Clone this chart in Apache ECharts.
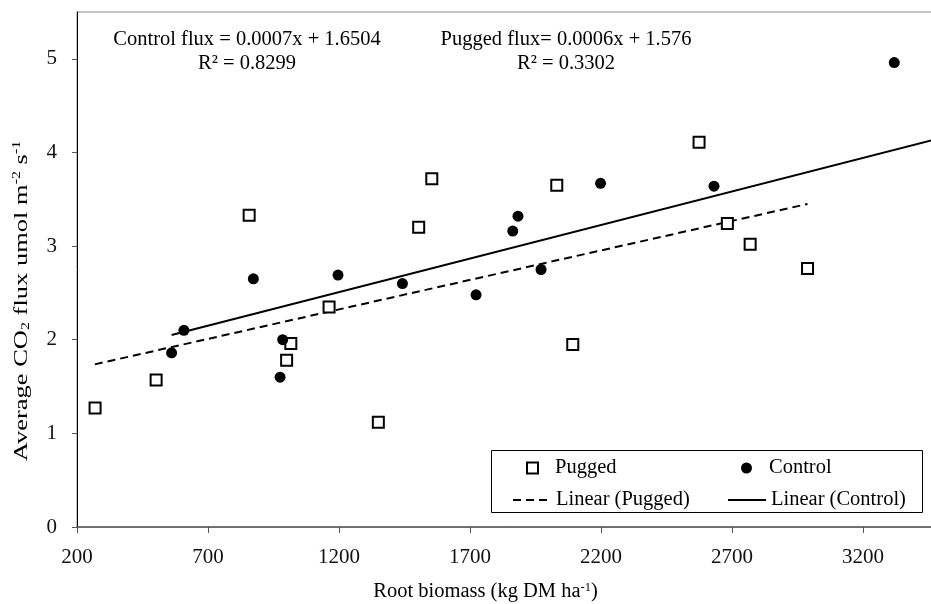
<!DOCTYPE html>
<html>
<head>
<meta charset="utf-8">
<script src="https://cdn.jsdelivr.net/npm/echarts@6/dist/echarts.min.js"></script>
<style>
  html, body { margin: 0; padding: 0; background: #fff; }
  #main { width: 931px; height: 604px; }
</style>
</head>
<body>
<div id="main"></div>
<script>
// root biomass (kg DM/ha) vs average CO2 flux
const puggedX = [269, 502, 857, 1000, 1016, 1162, 1350, 1504, 1554, 2031, 2092, 2574, 2682, 2769, 2988]
const puggedY = [1.27, 1.57, 3.33, 1.78, 1.96, 2.35, 1.12, 3.20, 3.72, 3.65, 1.95, 4.11, 3.24, 3.02, 2.76]
const controlX = [561, 608, 873, 985, 975, 1196, 1442, 1723, 1863, 1883, 1971, 2198, 2631, 3319]
const controlY = [1.86, 2.10, 2.65, 2.00, 1.60, 2.69, 2.60, 2.48, 3.16, 3.32, 2.75, 3.67, 3.64, 4.96]
// trend line end points
const puggedTrend = [[268, 1.737], [2988, 3.45]]
const controlTrend = [[561, 2.05], [3463, 4.13]]
const xTicks = [200, 700, 1200, 1700, 2200, 2700, 3200]
const yTicks = [0, 1, 2, 3, 4, 5]

const FONT = "Liberation Serif"
const zip = (xs, ys) => xs.map((x, i) => [x, ys[i]])

// one legend per entry so the two columns line up like the original box
function legendItem(name, left, top, extra) {
  return Object.assign({
    left: left, top: top, padding: 0,
    itemWidth: 38, itemHeight: 11,
    textStyle: { fontFamily: FONT, fontSize: 20.5, color: "#000", lineHeight: 22 },
    data: [name]
  }, extra || {})
}
const markerItem = {
  itemWidth: 11,
  textStyle: { fontFamily: FONT, fontSize: 20.5, color: "#000", lineHeight: 22, padding: [0, 0, 0, 12] }
}
const hideDot = { itemStyle: { opacity: 0, borderWidth: 0 } }

let chart = echarts.init(document.getElementById("main"))
chart.setOption({
  animation: false,
  textStyle: { fontFamily: FONT },
  grid: {
    left: 77, right: -1, top: 12, bottom: 77,
    outerBoundsMode: "none",
    containLabel: false,
    show: true,
    borderColor: "#888",
    borderWidth: 1
  },
  xAxis: {
    type: "value",
    min: 200,
    max: 3463,
    name: "{a|Root biomass (kg DM ha}{sup|-1}{a|)}",
    nameLocation: "middle",
    nameGap: 54,
    nameTextStyle: {
      padding: [0, 38, 0, 0],
      rich: {
        a: { fontFamily: FONT, fontSize: 20.5, color: "#000", lineHeight: 22 },
        sup: { fontFamily: FONT, fontSize: 12.5, color: "#000", verticalAlign: "top", lineHeight: 13 }
      }
    },
    axisLine: { lineStyle: { color: "#555", width: 1.5 } },
    axisTick: { show: true, length: 6, lineStyle: { color: "#555" }, customValues: xTicks },
    axisLabel: {
      customValues: xTicks, margin: 20,
      fontFamily: FONT, fontSize: 21, color: "#111",
      formatter: v => String(v)
    },
    splitLine: { show: false }
  },
  yAxis: {
    type: "value",
    min: 0,
    max: 5.5,
    axisLine: { show: true, lineStyle: { color: "#000", width: 1 } },
    axisTick: { show: true, length: 5, lineStyle: { color: "#555" }, customValues: yTicks },
    axisLabel: { customValues: yTicks, margin: 20, fontFamily: FONT, fontSize: 21, color: "#111" },
    splitLine: { show: false }
  },
  legend: [
    legendItem("Pugged", 526, 457, markerItem),
    legendItem("Control", 741, 457, markerItem),
    legendItem("Linear (Pugged)", 512, 489, hideDot),
    legendItem("Linear (Control)", 727, 489, hideDot)
  ],
  graphic: [
    {
      // y axis title, squeezed across like the original
      type: "text", x: 21.5, y: 301, rotation: Math.PI / 2, scaleY: 0.75,
      style: {
        text: "{a|Average CO}{sub|2}{a| flux umol m}{sup|-2}{a| s}{sup|-1}",
        align: "center", verticalAlign: "middle",
        rich: {
          a: { fontFamily: FONT, fontSize: 26.5, fill: "#000", lineHeight: 28 },
          sub: { fontFamily: FONT, fontSize: 16, fill: "#000", verticalAlign: "bottom", lineHeight: 16 },
          sup: { fontFamily: FONT, fontSize: 16, fill: "#000", verticalAlign: "top", lineHeight: 16 }
        }
      }
    },
    {
      type: "rect", z: 1,
      shape: { x: 491.5, y: 450.5, width: 431, height: 62 },
      style: { fill: "#fff", stroke: "#000", lineWidth: 1 }
    },
    {
      type: "text", x: 247, y: 52,
      style: {
        text: "Control flux = 0.0007x + 1.6504\nR² = 0.8299",
        fontFamily: FONT, fontSize: 20.5, lineHeight: 24, fill: "#000",
        align: "center", verticalAlign: "middle"
      }
    },
    {
      type: "text", x: 566, y: 52,
      style: {
        text: "Pugged flux= 0.0006x + 1.576\nR² = 0.3302",
        fontFamily: FONT, fontSize: 20.5, lineHeight: 24, fill: "#000",
        align: "center", verticalAlign: "middle"
      }
    }
  ],
  series: [
    {
      name: "Pugged",
      type: "scatter",
      symbol: "rect",
      symbolSize: 11,
      itemStyle: { color: "#fff", borderColor: "#000", borderWidth: 2, opacity: 1 },
      data: zip(puggedX, puggedY),
      z: 5
    },
    {
      name: "Control",
      type: "scatter",
      symbol: "circle",
      symbolSize: 11,
      itemStyle: { color: "#000", opacity: 1 },
      data: zip(controlX, controlY),
      z: 5
    },
    {
      name: "Linear (Pugged)",
      type: "line",
      symbol: "none",
      lineStyle: { color: "#000", width: 2, type: [8, 5] },
      itemStyle: { color: "#000" },
      data: puggedTrend
    },
    {
      name: "Linear (Control)",
      type: "line",
      symbol: "none",
      lineStyle: { color: "#000", width: 2 },
      itemStyle: { color: "#000" },
      data: controlTrend
    }
  ]
})
</script>
</body>
</html>
